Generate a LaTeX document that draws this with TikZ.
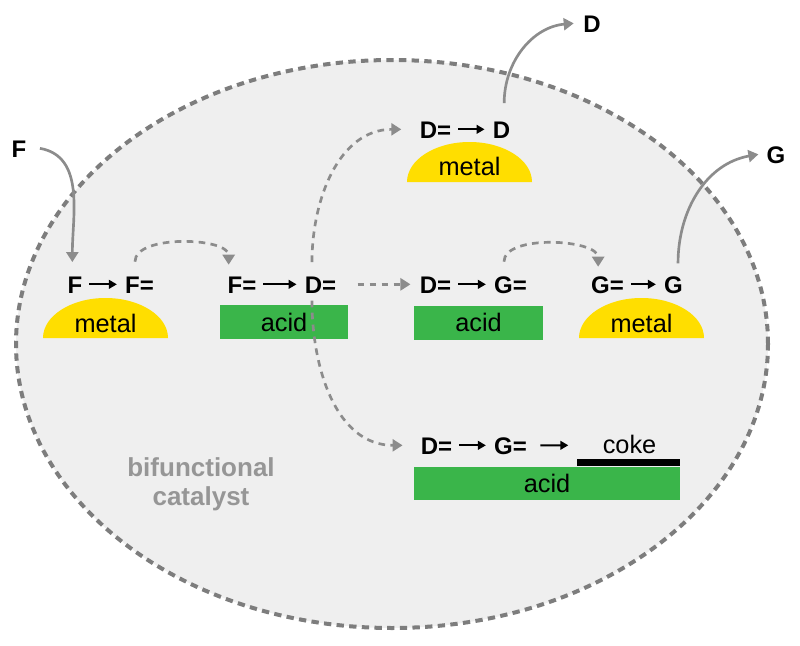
\documentclass[tikz,border=0pt]{standalone}
\usepackage{fontspec}
\setmainfont{Liberation Sans}
\usetikzlibrary{arrows.meta}

\definecolor{catfill}{RGB}{239,239,239}
\definecolor{catborder}{RGB}{125,125,125}
\definecolor{flowgray}{RGB}{140,140,140}
\definecolor{labelgray}{RGB}{150,150,150}
\definecolor{metalyellow}{RGB}{255,222,0}
\definecolor{acidgreen}{RGB}{58,181,74}

\tikzset{
  species/.style={font=\bfseries\fontsize{18}{20}\selectfont, anchor=base, inner sep=1pt, text height=13pt, text depth=0pt},
  support/.style={font=\fontsize{19}{21}\selectfont},
  acidbox/.style={support, fill=acidgreen, minimum height=25.5pt, inner sep=0pt},
  rx/.style={line width=1.5pt, -{Triangle[length=6pt,width=6.5pt]}, shorten <=4pt, shorten >=5pt},
  flow/.style={flowgray, line width=2pt, -{Triangle[length=7.5pt,width=9pt]}},
  hop/.style={flow, dash pattern=on 5pt off 4pt},
}

\begin{document}
\begin{tikzpicture}[x=0.75pt, y=0.75pt]
  \useasboundingbox (0,0) rectangle (800,-646);

  % catalyst particle
  \draw[catborder, fill=catfill, line width=3pt, dash pattern=on 5.5pt off 4pt] (392,-344) ellipse [x radius=376, y radius=284];
  \node[font=\bfseries\fontsize{19.5}{21.5}\selectfont, text=labelgray, align=center] (cat) at (201,-484) {bifunctional\\catalyst};

  % metal sites
  \fill[metalyellow] (43,-338) arc[start angle=180, end angle=0, x radius=62.5, y radius=40] -- cycle;
  \fill[metalyellow] (407,-182) arc[start angle=180, end angle=0, x radius=62.5, y radius=40] -- cycle;
  \fill[metalyellow] (579,-338) arc[start angle=180, end angle=0, x radius=62.5, y radius=40] -- cycle;
  \node[support, anchor=base] (m1) at (105.5,-332) {metal};
  \node[support, anchor=base] (m2) at (469.5,-175) {metal};
  \node[support, anchor=base] (m3) at (641.5,-332) {metal};

  % acid sites
  \node[acidbox, minimum width=96pt] (a1) at (284,-322) {acid};
  \node[acidbox, minimum width=96.75pt] (a2) at (478.5,-322.5) {acid};
  \node[acidbox, minimum width=199.5pt, minimum height=24.75pt] (a3) at (547,-483.5) {acid};
  \fill[black] (577,-459) rectangle (680,-466);

  % species
  \node[species] (inF) at (19,-157) {F};
  \node[species] (outD) at (592,-32) {D};
  \node[species] (outG) at (776,-163) {G};

  \node[species] (f1) at (75,-293) {F};
  \node[species] (f2) at (139.5,-293) {F=};
  \node[species] (f3) at (242,-293) {F=};
  \node[species] (f4) at (320.5,-293) {D=};
  \node[species] (d1) at (435.5,-138) {D=};
  \node[species] (p1) at (501.5,-138) {D};
  \node[species] (d2) at (435.5,-293) {D=};
  \node[species] (g1) at (510.5,-293) {G=};
  \node[species] (g2) at (607.5,-293) {G=};
  \node[species] (g3) at (673.5,-293) {G};
  \node[species] (d3) at (436.5,-454) {D=};
  \node[species] (g4) at (510.5,-454) {G=};
  \node[support, anchor=base] (coke) at (629.5,-453) {coke};
  \coordinate (cokeend) at (575,-445.3);

  % reactions
  \draw[rx] (f1) -- (f2);
  \draw[rx] (f3) -- (f4);
  \draw[rx] (d1) -- (p1);
  \draw[rx] (d2) -- (g1);
  \draw[rx] (g2) -- (g3);
  \draw[rx] (d3) -- (g4);
  \draw[rx, shorten <=9pt] (g4) -- (cokeend);

  % transport
  \draw[flow] ([xshift=9pt]inF.east) to[out=-10, in=90] ([shift={(-2pt,9pt)}]f1.north);
  \draw[flow] ([shift={(2pt,12pt)}]p1.north) to[out=90, in=185] ([xshift=-6pt]outD.west);
  \draw[flow] ([shift={(3.4pt,8pt)}]g3.north) to[out=90, in=190] ([xshift=-5pt]outG.west);
  \draw[hop] ([shift={(-3.4pt,9.3pt)}]f2.north) to[out=90, in=90, looseness=0.75] ([shift={(-10pt,7pt)}]f3.north);
  \draw[hop] ([shift={(-4.9pt,9.3pt)}]g1.north) to[out=90, in=90, looseness=0.75] ([shift={(-7pt,5.5pt)}]g2.north);
  \draw[hop] ([shift={(-6.4pt,9pt)}]f4.north) to[out=90, in=180] ([xshift=-12.7pt]d1.west);
  \draw[hop] ([shift={(-6.4pt,-4.5pt)}]f4.south) to[out=-90, in=180] ([xshift=-12.5pt]d3.west);
  \draw[hop, shorten <=14.8pt, shorten >=5.8pt] (f4) -- (d2);
\end{tikzpicture}
\end{document}
